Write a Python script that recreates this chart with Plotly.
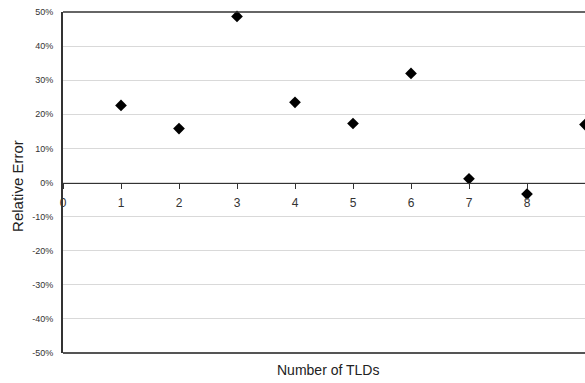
import plotly.graph_objects as go

tlds = [1, 2, 3, 4, 5, 6, 7, 8, 9]
rel_error = [0.226, 0.158, 0.487, 0.235, 0.173, 0.320, 0.011, -0.034, 0.170]
y_ticks = [0.5, 0.4, 0.3, 0.2, 0.1, 0.0, -0.1, -0.2, -0.3, -0.4, -0.5]
y_tick_labels = ["50%", "40%", "30%", "20%", "10%", "0%", "-10%", "-20%", "-30%", "-40%", "-50%"]
x_ticks = [0, 1, 2, 3, 4, 5, 6, 7, 8, 9]

font = "Liberation Sans, Arial, sans-serif"

fig = go.Figure()
fig.add_trace(go.Scatter(
    x=tlds, y=rel_error, mode="markers",
    marker=dict(symbol="diamond", size=9, color="black"),
    cliponaxis=False, showlegend=False, xaxis="x", yaxis="y",
))

W, H = 585, 383
L, R, T, B = 63, 0, 12, 30
pw, ph = W - L - R, H - T - B

xr = [0, 9.0]
fig.update_layout(
    width=W, height=H,
    margin=dict(l=L, r=R, t=T, b=B),
    paper_bgcolor="white", plot_bgcolor="white",
    xaxis=dict(
        range=xr, tickvals=x_ticks, ticktext=[str(v) for v in x_ticks],
        anchor="free", position=0.5, automargin=False,
        showline=True, linecolor="#333333", linewidth=1.2,
        ticks="outside", ticklen=5, tickcolor="#333333", tickwidth=1,
        showgrid=False, zeroline=False,
        tickfont=dict(family=font, size=12, color="#333333"),
        ticklabelstandoff=4,
    ),
    xaxis2=dict(
        range=xr, tickvals=x_ticks, overlaying="x", anchor="free", position=0.5,
        automargin=False,
        showline=False, ticks="inside", ticklen=5, tickcolor="#333333", tickwidth=1,
        showticklabels=False, showgrid=False, zeroline=False,
    ),
    yaxis=dict(
        range=[-0.5, 0.5], tickvals=y_ticks, ticktext=y_tick_labels,
        automargin=False,
        showline=True, linecolor="#333333", linewidth=2,
        showgrid=True, gridcolor="#d9d9d9", gridwidth=1, zeroline=False,
        tickfont=dict(family=font, size=9, color="#333333"),
        ticklabelstandoff=6,
    ),
    shapes=[
        dict(type="line", xref="paper", yref="paper", x0=0, x1=1, y0=1, y1=1,
             line=dict(color="#333333", width=1.5)),
        dict(type="line", xref="paper", yref="paper", x0=0, x1=1, y0=0, y1=0,
             line=dict(color="#555555", width=2)),
    ],
    annotations=[
        dict(text="Relative Error", xref="paper", yref="paper",
             x=-45 / pw, y=0.49, xanchor="center", yanchor="middle",
             textangle=-90, showarrow=False,
             font=dict(family=font, size=15, color="#222222")),
        dict(text="Number of TLDs", xref="paper", yref="paper",
             x=(328 - L) / pw, y=-17 / ph, xanchor="center", yanchor="middle",
             showarrow=False,
             font=dict(family=font, size=14, color="#222222")),
    ],
)

fig.write_html("out.html", config={"displayModeBar": False},
               post_script="document.body.style.margin='0';")
